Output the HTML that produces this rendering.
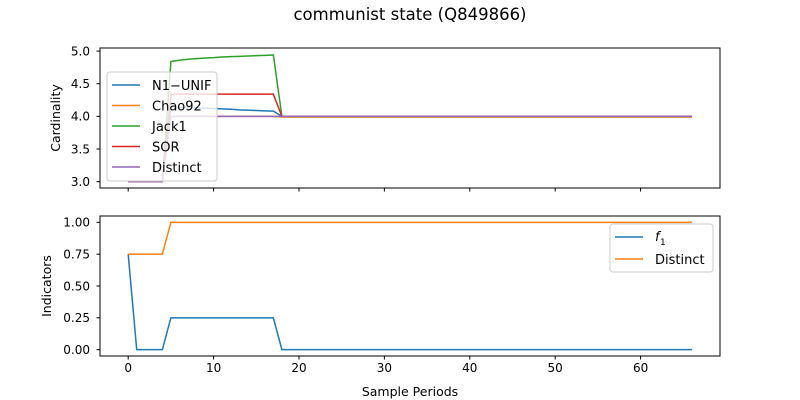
<!DOCTYPE html>
<html><head><meta charset="utf-8">
<style>
html,body{margin:0;padding:0;background:#fff;}
svg{display:block;font-family:"DejaVu Sans","Liberation Sans",sans-serif;}
</style></head>
<body>
<svg id="chart" width="800" height="400" viewBox="0 0 800 400">
<text x="410" y="20" text-anchor="middle" font-size="16.5">communist state (Q849866)</text>
<g id="topPanel"></g>
<g id="botPanel"></g>
</svg>
<script>
const periods = Array.from({length:67},(_,i)=>i);
const n1Early = [3,3,3,3,3,4.15,4.14,4.135,4.13,4.125,4.12,4.115,4.11,4.1,4.095,4.09,4.085,4.08];
const chaoEarly = [3,3,3,3,3,4,4,4,4,4,4,4,4,4,4,4,4,4];
const jackEarly = [3,3,3,3,3,4.84,4.86,4.875,4.885,4.895,4.9,4.91,4.915,4.92,4.925,4.93,4.935,4.94];
const sorEarly = [3,3,3,3,3,4.34,4.34,4.34,4.34,4.34,4.34,4.34,4.34,4.34,4.34,4.34,4.34,4.34];
const distinctEarly = [3,3,3,3,3,4,4,4,4,4,4,4,4,4,4,4,4,4];
const lateTop = {n1:4.0, chao:3.99, jack:4.0, sor:4.0, distinct:4.0};
const f1Early = [0.75,0,0,0,0,0.25,0.25,0.25,0.25,0.25,0.25,0.25,0.25,0.25,0.25,0.25,0.25,0.25];
const indDistinctEarly = [0.75,0.75,0.75,0.75,0.75,1,1,1,1,1,1,1,1,1,1,1,1,1];
const f1Late = 0, indDistinctLate = 1;
const xTicks = [0,10,20,30,40,50,60];
const yTopTicks = [3.0,3.5,4.0,4.5,5.0];
const yBotTicks = [0.00,0.25,0.50,0.75,1.00];

function ext(early, late){return periods.map(i=>i<early.length?early[i]:late);}
const NS="http://www.w3.org/2000/svg";
function el(tag,attrs,parent,txt){const e=document.createElementNS(NS,tag);for(const k in attrs)e.setAttribute(k,attrs[k]);if(txt!==undefined)e.textContent=txt;parent.appendChild(e);return e;}
const L=100,R=720;
const xS=v=>L+(v+3.3)/72.6*(R-L);
function panel(g,t0,b0,ymin,ymax,ticks,fmt,series,ylabel,showX){
  const yS=v=>b0-(v-ymin)/(ymax-ymin)*(b0-t0);
  series.forEach(s=>{
    const p=el('polyline',{points:s.data.map((v,i)=>xS(periods[i])+','+yS(v)).join(' '),fill:'none',stroke:s.color,'stroke-width':1.5},g);
    
    
  });
  const fr=el('rect',{x:L,y:t0,width:R-L,height:b0-t0,fill:'none',stroke:'#000','stroke-width':1},g);
  
  
  ticks.forEach(t=>{
    const y=yS(t);
    el('line',{x1:L-3.5,x2:L,y1:y,y2:y,stroke:'#000'},g);
    const tx=el('text',{x:L-10,y:y+4.3,'text-anchor':'end','font-size':12},g,fmt(t));
    
    
  });
  xTicks.forEach(t=>{
    const x=xS(t);
    el('line',{x1:x,x2:x,y1:b0,y2:b0+3.5,stroke:'#000'},g);
    if(showX){const tx=el('text',{x:x,y:b0+16,'text-anchor':'middle','font-size':12},g,String(t));
      
      }
  });
  const yl=el('text',{x:0,y:0,'text-anchor':'middle','font-size':12.5,transform:`translate(${ylabel.x},${(t0+b0)/2}) rotate(-90)`},g,ylabel.t);
  
  
}
const gTop=document.getElementById('topPanel'),gBot=document.getElementById('botPanel');
const topSeries=[
 {name:'n1-unif',label:'N1\u2212UNIF',color:'#1f77b4',data:ext(n1Early,lateTop.n1)},
 {name:'chao92',label:'Chao92',color:'#ff7f0e',data:ext(chaoEarly,lateTop.chao)},
 {name:'jack1',label:'Jack1',color:'#2ca02c',data:ext(jackEarly,lateTop.jack)},
 {name:'sor',label:'SOR',color:'#d62728',data:ext(sorEarly,lateTop.sor)},
 {name:'distinct',label:'Distinct',color:'#9467bd',data:ext(distinctEarly,lateTop.distinct)}];
panel(gTop,48,188,2.9025,5.0475,yTopTicks,v=>v.toFixed(1),topSeries,{x:60,t:'Cardinality'},false);
const botSeries=[
 {name:'f1',color:'#1f77b4',data:ext(f1Early,f1Late)},
 {name:'distinct-indicator',color:'#ff7f0e',data:ext(indDistinctEarly,indDistinctLate)}];
panel(gBot,216,356,-0.05,1.05,yBotTicks,v=>v.toFixed(2),botSeries,{x:51,t:'Indicators'},true);
const xl=el('text',{x:410,y:396,'text-anchor':'middle','font-size':12.5},gBot,'Sample Periods');



const lg=el('g',{},gTop);


el('rect',{x:107,y:72,width:110,height:109,rx:3,fill:'#fff','fill-opacity':0.8,stroke:'#ccc'},lg);
topSeries.forEach((s,i)=>{
  const y=85+i*20.5;
  el('line',{x1:112,x2:140,y1:y,y2:y,stroke:s.color,'stroke-width':1.5},lg);
  const t=el('text',{x:152,y:y+4.8,'font-size':13},lg,s.label);
  
  
});
const lg2=el('g',{},gBot);


el('rect',{x:610,y:224,width:103,height:48,rx:3,fill:'#fff','fill-opacity':0.8,stroke:'#ccc'},lg2);
el('line',{x1:615,x2:643,y1:237,y2:237,stroke:'#1f77b4','stroke-width':1.5},lg2);
const t1=el('text',{x:655,y:241,'font-size':13,'font-style':'italic'},lg2,'f');


el('text',{x:660,y:245,'font-size':9},lg2,'1');
el('line',{x1:615,x2:643,y1:259,y2:259,stroke:'#ff7f0e','stroke-width':1.5},lg2);
const t2=el('text',{x:655,y:264,'font-size':13},lg2,'Distinct');


</script>
</body></html>
